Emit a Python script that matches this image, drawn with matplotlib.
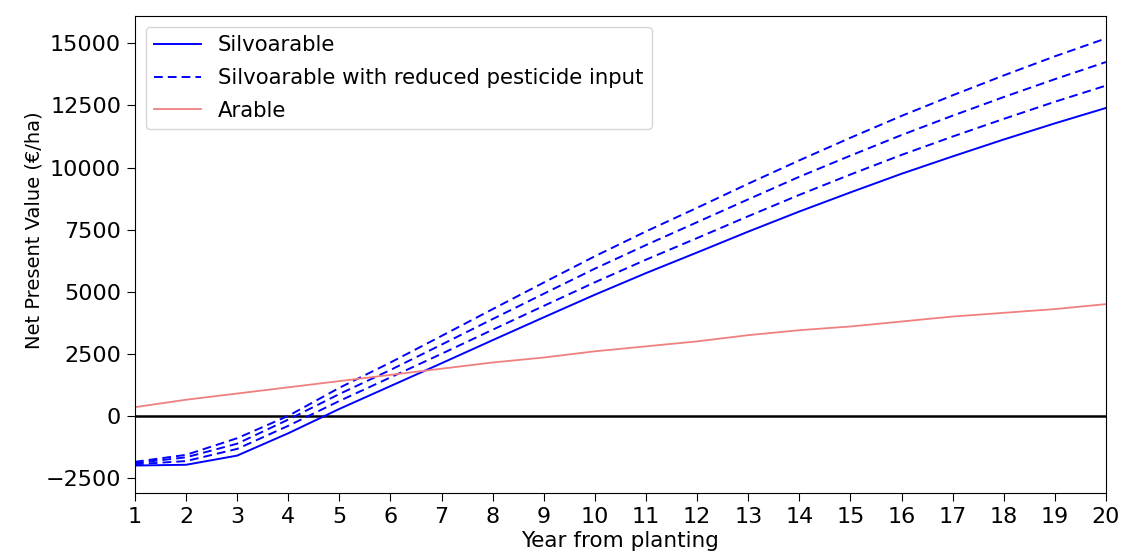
import matplotlib
matplotlib.use("Agg")
import matplotlib.pyplot as plt
import numpy as np

# Data
years = list(range(1, 21))

silvoarable = [-2000, -1970, -1600, -700, 280, 1200, 2120, 3050, 3970, 4880,
               5750, 6580, 7420, 8230, 9000, 9750, 10450, 11130, 11780, 12400]

reduced_high = [-1850, -1570, -900, 0, 1130, 2150, 3220, 4300, 5370, 6430,
                7430, 8380, 9350, 10290, 11200, 12080, 12910, 13710, 14480, 15200]
reduced_mid = [-1900, -1670, -1120, -150, 880, 1850, 2870, 3900, 4920, 5930,
               6880, 7800, 8720, 9630, 10480, 11310, 12090, 12840, 13560, 14250]
reduced_low = [-1950, -1820, -1330, -400, 600, 1550, 2500, 3470, 4430, 5380,
               6290, 7160, 8040, 8900, 9720, 10510, 11250, 11960, 12650, 13300]

arable = [350, 650, 900, 1150, 1400, 1650, 1900, 2150, 2350, 2600,
          2800, 3000, 3250, 3450, 3600, 3800, 4000, 4150, 4300, 4500]

yticks = [-2500, 0, 2500, 5000, 7500, 10000, 12500, 15000]

fig = plt.figure(figsize=(11.22, 5.55), dpi=100)
ax = fig.add_axes([0.1203, 0.112, 0.8654, 0.859])

ax.axhline(0, color="black", lw=1.8, zorder=1)

dash = (4.5, 2.6)
ax.plot(years, silvoarable, color="blue", lw=1.4, label="Silvoarable")
ax.plot(years, reduced_low, color="blue", lw=1.4, ls="--", dashes=dash,
        label="Silvoarable with reduced pesticide input")
ax.plot(years, reduced_mid, color="blue", lw=1.4, ls="--", dashes=dash)
ax.plot(years, reduced_high, color="blue", lw=1.4, ls="--", dashes=dash)
ax.plot(years, arable, color="#f08080", lw=1.3, label="Arable")

ax.set_xlim(1, 20)
ax.set_ylim(-3100, 16100)
ax.set_xticks(years)
ax.set_yticks(yticks)
ax.tick_params(labelsize=16, length=6, pad=4)

ax.set_xlabel("Year from planting", fontsize=15.5, labelpad=3)
ax.set_ylabel("Net Present Value (€/ha)", fontsize=14, labelpad=5)
ax.yaxis.set_label_coords(-0.094, 0.55)

ax.legend(loc="upper left", fontsize=15.3, handlelength=2.2,
          borderaxespad=0.5, labelspacing=0.6)

fig.savefig("out.png", dpi=100)
